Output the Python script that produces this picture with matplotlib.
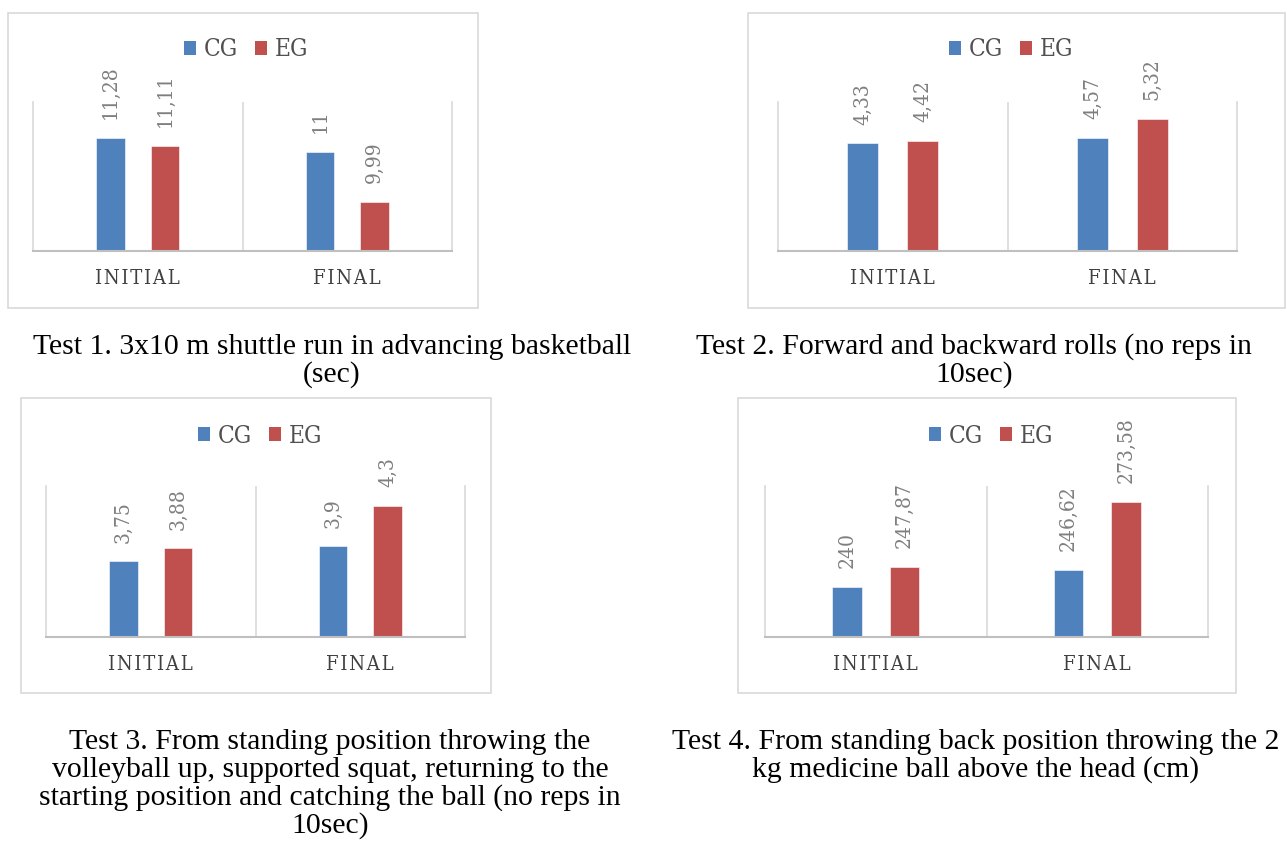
import matplotlib.pyplot as plt
from matplotlib.patches import Rectangle, Patch

# Group means per test (initial / final)
categories = ["INITIAL", "FINAL"]
groups = ["CG", "EG"]

test1_cg = [11.28, 11.00]
test1_eg = [11.11, 9.99]
test2_cg = [4.33, 4.57]
test2_eg = [4.42, 5.32]
test3_cg = [3.75, 3.90]
test3_eg = [3.88, 4.30]
test4_cg = [240.00, 246.62]
test4_eg = [247.87, 273.58]

captions = [
    ["Test 1. 3x10 m shuttle run in advancing basketball", "(sec)"],
    ["Test 2. Forward and backward rolls (no reps in", "10sec)"],
    ["Test 3. From standing position throwing the",
     "volleyball up, supported squat, returning to the",
     "starting position and catching the ball (no reps in",
     "10sec)"],
    ["Test 4. From standing back position throwing the 2",
     "kg medicine ball above the head (cm)"],
]

W, H = 1287, 855
BLUE = "#4f81bd"
RED = "#c0504d"
GRID = "#d9d9d9"

plt.rcParams["font.family"] = ["DejaVu Serif"]
fig = plt.figure(figsize=(W / 100, H / 100), dpi=100)


def rect(x0, y0, x1, y1):
    # pixel box (top-left origin) -> figure fraction
    return [x0 / W, 1 - y1 / H, (x1 - x0) / W, (y1 - y0) / H]


def fmt(v):
    return "{:g}".format(v).replace(".", ",")


def spaced(s):
    return "\u200a".join(s)


def draw_panel(box, plot, legend_xy, cg, eg, ylim):
    bx0, by0, bx1, by1 = box
    fig.patches.append(Rectangle((bx0 / W, 1 - by1 / H), (bx1 - bx0) / W, (by1 - by0) / H,
                                 transform=fig.transFigure, facecolor="none",
                                 edgecolor=GRID, linewidth=1.2, zorder=-1))
    ax = fig.add_axes(rect(*plot))
    ax.set_facecolor("none")
    xs = range(len(categories))
    off, bw = 0.13, 0.135
    for vals, sign, col in ((cg, -1, BLUE), (eg, 1, RED)):
        for x, v in zip(xs, vals):
            ax.bar(x + sign * off, v - ylim[0], bw, bottom=ylim[0], color=col,
                   edgecolor="white", linewidth=0.4)
            ax.annotate(fmt(v), (x + sign * off, v), xytext=(0, 13.5), textcoords="offset points",
                        rotation=90, ha="center", va="bottom", fontsize=15,
                        color="#7f7f7f", fontstretch="condensed", annotation_clip=False)
    ax.set_xlim(-0.5, 1.5)
    ax.set_ylim(*ylim)
    ax.axvline(0.5, color=GRID, linewidth=1.2)
    ax.spines["top"].set_visible(False)
    for s in ("left", "right"):
        ax.spines[s].set_color(GRID)
        ax.spines[s].set_linewidth(1.2)
    ax.spines["bottom"].set_color("#bfbfbf")
    ax.spines["bottom"].set_linewidth(1.5)
    ax.set_yticks([])
    ax.set_xticks(list(xs))
    ax.set_xticklabels([spaced(c) for c in categories], fontsize=14.5, color="#404040",
                       fontstretch="condensed")
    ax.tick_params(axis="x", length=0, pad=13)
    handles = [Patch(facecolor=BLUE), Patch(facecolor=RED)]
    ax.legend(handles, groups, loc="center", ncol=2, frameon=False,
              bbox_to_anchor=(legend_xy[0] / W, 1 - legend_xy[1] / H),
              bbox_transform=fig.transFigure, labelcolor="#505050",
              handlelength=0.5, handleheight=0.5, handletextpad=0.3, columnspacing=0.7,
              prop={"stretch": "condensed", "size": 17.5})
    return ax


draw_panel((8, 13, 478, 308), (33, 102, 452, 251), (246, 50), test1_cg, test1_eg, (9, 12))
draw_panel((748, 13, 1285, 308), (778, 102, 1237, 251), (1011, 50), test2_cg, test2_eg, (0, 6))
draw_panel((21, 398, 491, 693), (46, 486, 465, 637), (260, 436), test3_cg, test3_eg, (3, 4.5))
draw_panel((738, 398, 1236, 693), (765, 486, 1208, 637), (991, 436), test4_cg, test4_eg, (220, 280))

# figure captions under each chart
cap_font = {"family": ["Liberation Serif", "DejaVu Serif"], "size": 21.4}
for lines, cx, y0 in ((captions[0], 332, 347), (captions[1], 974, 347),
                      (captions[2], 330, 742), (captions[3], 976, 742)):
    for i, line in enumerate(lines):
        fig.text(cx / W, 1 - (y0 + i * 27.7) / H, line, ha="center", va="center",
                 fontdict=cap_font, color="black")

fig.savefig("out.png", dpi=100)
